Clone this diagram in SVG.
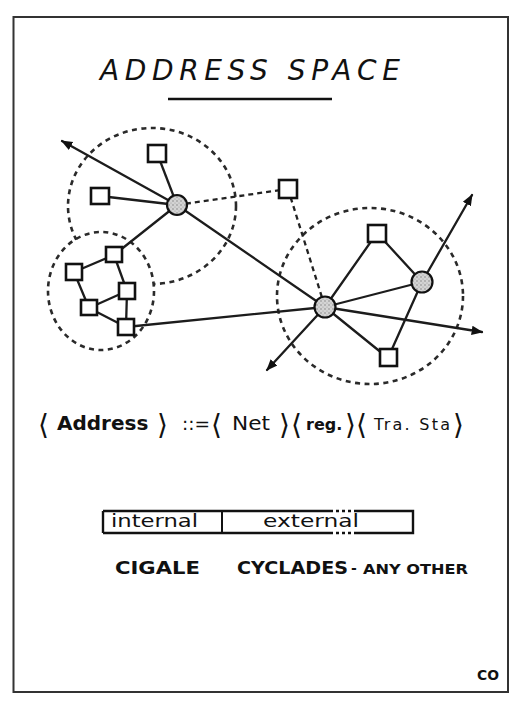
<svg xmlns="http://www.w3.org/2000/svg" width="520" height="707" viewBox="0 0 520 707">
<style>
.ln{stroke:#1c1c1c;stroke-width:2.3;fill:none;stroke-linecap:round}
.dl{stroke:#222;stroke-width:2.3;fill:none;stroke-dasharray:5 4}
.dc{stroke:#2a2a2a;stroke-width:2.6;fill:none;stroke-dasharray:5 4.5}
.sq{fill:#fff;stroke:#111;stroke-width:2.6}
.hub{fill:url(#stip);stroke:#111;stroke-width:2.2}
.t{font-family:"DejaVu Sans","Liberation Sans",sans-serif;fill:#111}
</style>
<defs>
<pattern id="stip" width="4" height="4" patternUnits="userSpaceOnUse">
<rect width="4" height="4" fill="#d4d4d4"/>
<circle cx="1" cy="1" r="0.7" fill="#777"/>
<circle cx="3" cy="3" r="0.6" fill="#999"/>
</pattern>
<marker id="ah" viewBox="0 0 10 10" refX="9" refY="5" markerWidth="5" markerHeight="5" orient="auto" markerUnits="strokeWidth">
<path d="M0,1 L10,5 L0,9 Z" fill="#111"/>
</marker>
<clipPath id="notPent">
<path clip-rule="evenodd" d="M0,0H520V707H0Z M48,291 a53,58 0 1,0 106,0 a53,58 0 1,0 -106,0Z"/>
</clipPath>
</defs>
<rect x="13.5" y="17" width="494.5" height="675" fill="#fff" stroke="#333" stroke-width="2"/>

<g id="title">
<text class="t" x="100" y="80" font-size="28" font-style="italic" textLength="300" lengthAdjust="spacing">ADDRESS SPACE</text>
<line x1="168" y1="99" x2="332" y2="99" stroke="#111" stroke-width="2.5"/>
</g>

<g id="regions">
<ellipse cx="152" cy="206" rx="84" ry="78" class="dc" clip-path="url(#notPent)"/>
<ellipse cx="101" cy="291" rx="53" ry="59" class="dc"/>
<ellipse cx="370" cy="296" rx="93" ry="88" class="dc"/>
</g>

<g id="connectors">
<line class="ln" x1="177" y1="205" x2="62" y2="141" marker-end="url(#ah)"/>
<line class="ln" x1="325" y1="307" x2="177" y2="205"/>
<line class="ln" x1="177" y1="205" x2="157" y2="153"/>
<line class="ln" x1="177" y1="205" x2="100" y2="196"/>
<line class="ln" x1="177" y1="205" x2="114" y2="255"/>
<line class="dl" x1="177" y1="205" x2="288" y2="189"/>
<line class="dl" x1="288" y1="189" x2="325" y2="307"/>
<line class="ln" x1="114" y1="255" x2="74" y2="272"/>
<line class="ln" x1="74" y1="272" x2="89" y2="308"/>
<line class="ln" x1="114" y1="255" x2="127" y2="291"/>
<line class="ln" x1="127" y1="291" x2="89" y2="308"/>
<line class="ln" x1="127" y1="291" x2="126" y2="327"/>
<line class="ln" x1="89" y1="308" x2="126" y2="327"/>
<line class="ln" x1="126" y1="327" x2="325" y2="307"/>
<line class="ln" x1="325" y1="307" x2="377" y2="233"/>
<line class="ln" x1="377" y1="233" x2="422" y2="282"/>
<line class="ln" x1="325" y1="307" x2="422" y2="282"/>
<line class="ln" x1="422" y1="282" x2="472" y2="195" marker-end="url(#ah)"/>
<line class="ln" x1="422" y1="282" x2="388" y2="358" stroke-width="1.9"/>
<line class="ln" x1="325" y1="307" x2="388" y2="358"/>
<line class="ln" x1="325" y1="307" x2="482" y2="332" marker-end="url(#ah)"/>
<line class="ln" x1="325" y1="307" x2="267" y2="370" marker-end="url(#ah)"/>
</g>

<g id="nodeA"><circle class="hub" cx="177" cy="205" r="10"/></g>
<g id="nodeB"><circle class="hub" cx="325" cy="307" r="10.5"/></g>
<g id="nodeC"><circle class="hub" cx="422" cy="282" r="10.5"/></g>
<g id="sqTop"><rect class="sq" x="148" y="145" width="18" height="17"/></g>
<g id="sqLeft"><rect class="sq" x="91" y="188" width="18" height="16"/></g>
<g id="sqMid"><rect class="sq" x="279" y="180" width="18" height="18"/></g>
<g id="sqP1"><rect class="sq" x="106" y="247" width="16" height="15"/></g>
<g id="sqP2"><rect class="sq" x="66" y="264" width="16" height="16"/></g>
<g id="sqP3"><rect class="sq" x="119" y="283" width="16" height="16"/></g>
<g id="sqP4"><rect class="sq" x="81" y="300" width="16" height="15"/></g>
<g id="sqP5"><rect class="sq" x="118" y="319" width="16" height="16"/></g>
<g id="sqR1"><rect class="sq" x="368" y="225" width="18" height="17"/></g>
<g id="sqR2"><rect class="sq" x="380" y="349" width="17" height="17"/></g>

<g id="address">
<text class="t" x="38" y="434" font-size="28">⟨</text>
<text class="t" x="57" y="430" font-size="20" font-weight="bold">Address</text>
<text class="t" x="157" y="434" font-size="28">⟩</text>
<text class="t" x="182" y="430" font-size="17" textLength="28" lengthAdjust="spacingAndGlyphs">::=</text>
<text class="t" x="211" y="434" font-size="28">⟨</text>
<text class="t" x="232" y="430" font-size="20" textLength="38" lengthAdjust="spacingAndGlyphs">Net</text>
<text class="t" x="279" y="434" font-size="28">⟩</text>
<text class="t" x="291" y="434" font-size="28">⟨</text>
<text class="t" x="306" y="430" font-size="16" font-weight="bold">reg.</text>
<text class="t" x="345" y="434" font-size="28">⟩</text>
<text class="t" x="356" y="434" font-size="28">⟨</text>
<text class="t" x="374" y="430" font-size="16" textLength="76" lengthAdjust="spacing">Tra. Sta</text>
<text class="t" x="453" y="434" font-size="28">⟩</text>
</g>

<g id="bar">
<path d="M103,511 H330 M357,511 H413 V533 H357 M330,533 H103 Z" fill="none" stroke="#111" stroke-width="2.4"/>
<path d="M330,511 H357 M330,533 H357" fill="none" stroke="#111" stroke-width="2.4" stroke-dasharray="3 3"/>
<line x1="103" y1="511" x2="103" y2="533" stroke="#111" stroke-width="2.4"/>
<line x1="222" y1="511" x2="222" y2="533" stroke="#111" stroke-width="2"/>
<text class="t" x="111" y="527" font-size="17" textLength="87" lengthAdjust="spacingAndGlyphs">internal</text>
<text class="t" x="263" y="527" font-size="17" textLength="96" lengthAdjust="spacingAndGlyphs">external</text>
</g>

<g id="labels">
<text class="t" x="115" y="574" font-size="18" font-weight="bold" textLength="85" lengthAdjust="spacingAndGlyphs">CIGALE</text>
<text class="t" x="237" y="574" font-size="18" font-weight="bold" textLength="111" lengthAdjust="spacingAndGlyphs">CYCLADES</text>
<text class="t" x="351" y="573" font-size="14" font-weight="bold">-</text>
<text class="t" x="363" y="574" font-size="14" font-weight="bold" textLength="105" lengthAdjust="spacingAndGlyphs">ANY OTHER</text>
</g>

<g id="signature">
<text class="t" x="477" y="680" font-size="14" font-weight="bold" textLength="22" lengthAdjust="spacingAndGlyphs">CO</text>
</g>
</svg>
